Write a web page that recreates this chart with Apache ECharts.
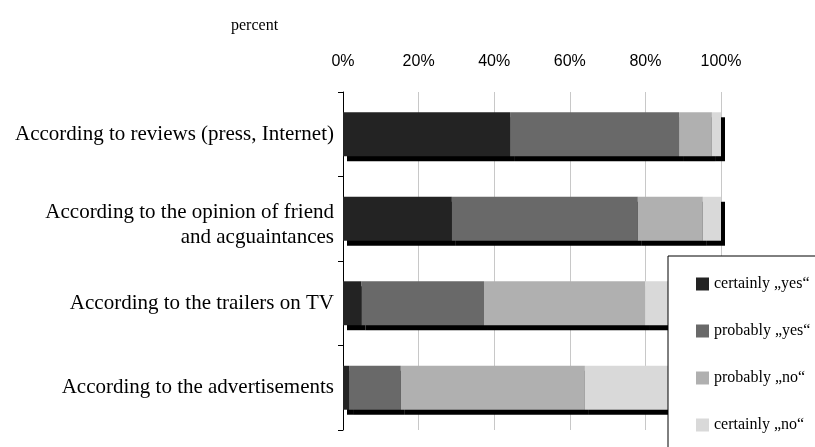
<!DOCTYPE html>
<html>
<head>
<meta charset="utf-8">
<script src="https://cdn.jsdelivr.net/npm/echarts@6/dist/echarts.min.js"></script>
<style>html,body{margin:0;padding:0;background:#fff}#c{width:815px;height:447px}</style>
</head>
<body>
<div id="c"></div>
<script>
var categories = [
  'According to reviews (press, Internet)',
  'According to the opinion of friend\nand acguaintances',
  'According to the trailers on TV',
  'According to the advertisements'
];
var seriesNames = ['certainly \u201Eyes\u201C', 'probably \u201Eyes\u201C', 'probably \u201Eno\u201C', 'certainly \u201Eno\u201C'];
var certainlyYes = [44.2, 28.8, 4.9, 1.6];
var probablyYes  = [44.7, 49.2, 32.4, 13.7];
var probablyNo   = [8.7, 17.2, 42.6, 48.7];
var certainlyNo  = [2.4, 4.8, 20.1, 36.0];
var xTicks = [0, 20, 40, 60, 80, 100];

var colors = ['#232323', '#696969', '#b0b0b0', '#d9d9d9'];
var values = [certainlyYes, probablyYes, probablyNo, certainlyNo];

var chart = echarts.init(document.getElementById('c'), null, {renderer: 'canvas'});
var series = seriesNames.map(function (n, i) {
  return {
    name: n,
    type: 'bar',
    stack: 'total',
    barCategoryGap: '48%',
    data: values[i],
    itemStyle: {
      color: colors[i],
      shadowColor: '#000',
      shadowBlur: 0,
      shadowOffsetX: 4,
      shadowOffsetY: 5
    }
  };
});
chart.setOption({
  animation: false,
  backgroundColor: '#fff',
  title: {
    text: 'percent',
    left: 226,
    top: 13,
    textStyle: {fontFamily: 'Liberation Serif', fontSize: 16, fontWeight: 'normal', color: '#000'}
  },
  grid: {left: 343, right: 94, top: 92, bottom: 17},
  legend: {
    orient: 'vertical',
    left: 668,
    top: 256,
    height: 280,
    padding: [20, 40, 50, 28],
    itemGap: 31,
    itemWidth: 13,
    itemHeight: 13,
    borderColor: '#000',
    borderWidth: 1,
    backgroundColor: '#fff',
    icon: 'rect',
    textStyle: {fontFamily: 'Liberation Serif', fontSize: 16, color: '#000'},
    data: seriesNames
  },
  xAxis: {
    type: 'value',
    position: 'top',
    min: xTicks[0],
    max: xTicks[xTicks.length - 1],
    interval: 20,
    axisLine: {show: false},
    axisTick: {show: false},
    splitLine: {show: true, lineStyle: {color: '#c8c8c8', width: 1}},
    axisLabel: {
      margin: 22,
      formatter: '{value}%',
      fontFamily: 'Liberation Sans',
      fontSize: 16,
      color: '#000'
    }
  },
  yAxis: {
    type: 'category',
    inverse: true,
    data: categories,
    axisLine: {show: true, lineStyle: {color: '#000', width: 1}},
    axisTick: {show: true, length: 5, lineStyle: {color: '#000'}},
    axisLabel: {
      margin: 9,
      fontFamily: 'Liberation Serif',
      fontSize: 21,
      lineHeight: 25,
      color: '#000',
      align: 'right',
      formatter: function (v) {
        var lines = v.split('\n');
        if (lines.length === 1) return v;
        return '{s| }\n' + lines.map(function (l) { return '{t|' + l + '}'; }).join('\n');
      },
      rich: {
        s: {fontSize: 1, lineHeight: 12},
        t: {fontFamily: 'Liberation Serif', fontSize: 21, lineHeight: 25, color: '#000', align: 'right'}
      }
    }
  },
  series: series
});
</script>
</body>
</html>
